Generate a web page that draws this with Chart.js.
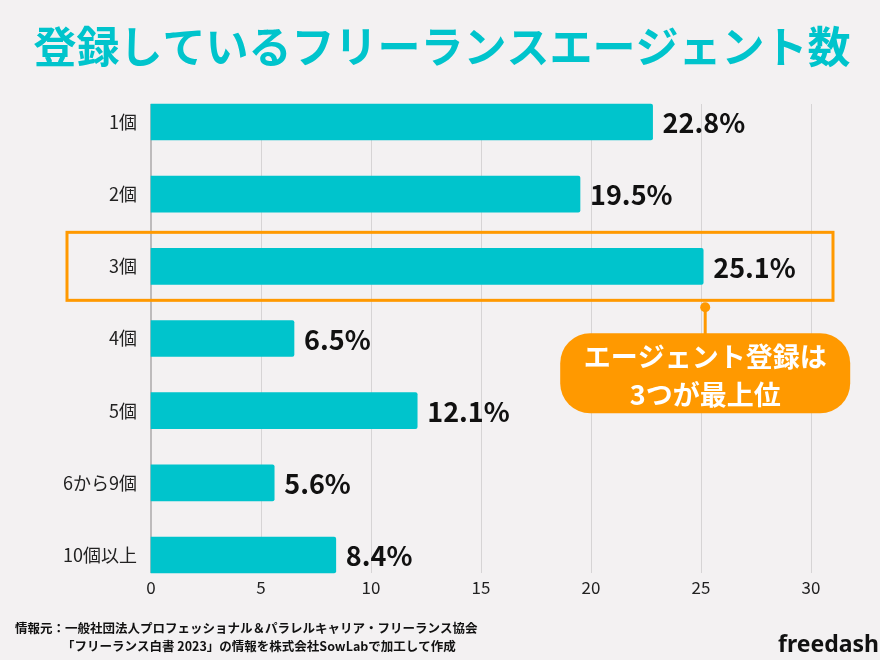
<!DOCTYPE html>
<html>
<head>
<meta charset="utf-8">
<script src="https://cdn.jsdelivr.net/npm/chart.js@4.4.1/dist/chart.umd.min.js"></script>
<style>
  html, body { margin: 0; padding: 0; background: #f3f1f2; }
  #wrap { width: 880px; height: 660px; }
</style>
</head>
<body>
<div id="wrap"><canvas id="graph" width="880" height="660"></canvas></div>
<script>
const categories = ['1個', '2個', '3個', '4個', '5個', '6から9個', '10個以上'];
const shares = [22.8, 19.5, 25.1, 6.5, 12.1, 5.6, 8.4];
const xTicks = [0, 5, 10, 15, 20, 25, 30];

const titleText = '登録しているフリーランスエージェント数';
const calloutLines = ['エージェント登録は', '3つが最上位'];
const sourceLines = [
    '情報元：一般社団法人プロフェッショナル＆パラレルキャリア・フリーランス協会',
    '「フリーランス白書 2023」の情報を株式会社SowLabで加工して作成'
];
const highlightIndex = 2;

const teal = 'rgb(0, 196, 204)';
const orange = 'rgb(255, 153, 0)';
const jp = '"Noto Sans CJK JP", "Noto Sans", sans-serif';
const barThick = 36;

function roundRect(ctx, x, y, w, h, r) {
    ctx.beginPath();
    ctx.moveTo(x + r, y);
    ctx.lineTo(x + w - r, y);
    ctx.arcTo(x + w, y, x + w, y + r, r);
    ctx.lineTo(x + w, y + h - r);
    ctx.arcTo(x + w, y + h, x + w - r, y + h, r);
    ctx.lineTo(x + r, y + h);
    ctx.arcTo(x, y + h, x, y + h - r, r);
    ctx.lineTo(x, y + r);
    ctx.arcTo(x, y, x + r, y, r);
    ctx.closePath();
}

const decorations = {
    id: 'decorations',
    beforeDatasetsDraw(chart) {
        const ctx = chart.ctx;
        const x = chart.scales.x;
        const y = chart.scales.y;
        const top = y.getPixelForValue(0) - barThick / 2;
        const bottom = y.getPixelForValue(categories.length - 1) + barThick / 2;
        ctx.save();
        ctx.strokeStyle = '#d6d4d5';
        ctx.lineWidth = 1;
        xTicks.forEach(function (t) {
            if (t === 0) return;
            const px = Math.round(x.getPixelForValue(t)) + 0.5;
            ctx.beginPath();
            ctx.moveTo(px, top);
            ctx.lineTo(px, bottom);
            ctx.stroke();
        });
        ctx.strokeStyle = '#bdbbbc';
        ctx.lineWidth = 2;
        const x0 = x.getPixelForValue(0);
        ctx.beginPath();
        ctx.moveTo(x0, top);
        ctx.lineTo(x0, bottom);
        ctx.stroke();
        ctx.restore();
    },
    afterDatasetsDraw(chart) {
        const ctx = chart.ctx;
        const x = chart.scales.x;
        const y = chart.scales.y;
        const area = chart.chartArea;
        ctx.save();

        // value labels
        ctx.fillStyle = '#111';
        ctx.font = 'bold 27px ' + jp;
        ctx.textBaseline = 'middle';
        ctx.textAlign = 'left';
        shares.forEach(function (v, i) {
            ctx.fillText(v.toFixed(1) + '%', x.getPixelForValue(v) + 10, y.getPixelForValue(i) + 1);
        });

        // highlight box
        const cy = y.getPixelForValue(highlightIndex);
        const boxTop = cy - 34;
        const boxBottom = cy + 34;
        ctx.strokeStyle = orange;
        ctx.lineWidth = 3;
        ctx.strokeRect(area.left - 84, boxTop, area.right + 22 - (area.left - 84), boxBottom - boxTop);

        // callout
        const px = x.getPixelForValue(shares[highlightIndex]) + 2;
        ctx.fillStyle = orange;
        ctx.beginPath();
        ctx.arc(px, boxBottom + 7, 5, 0, Math.PI * 2);
        ctx.fill();
        ctx.beginPath();
        ctx.moveTo(px, boxBottom + 7);
        ctx.lineTo(px, boxBottom + 36);
        ctx.stroke();
        roundRect(ctx, px - 145, boxBottom + 33, 290, 80, 30);
        ctx.fill();
        ctx.fillStyle = '#fff';
        ctx.font = 'bold 27px ' + jp;
        ctx.textAlign = 'center';
        ctx.fillText(calloutLines[0], px, boxBottom + 56);
        ctx.fillText(calloutLines[1], px, boxBottom + 94);
        ctx.restore();
    },
    afterDraw(chart) {
        const ctx = chart.ctx;
        ctx.save();
        ctx.fillStyle = teal;
        ctx.font = 'bold 43px ' + jp;
        ctx.textAlign = 'center';
        ctx.textBaseline = 'middle';
        ctx.fillText(titleText, 442, 47);

        ctx.fillStyle = '#111';
        ctx.font = 'bold 12.5px ' + jp;
        ctx.textAlign = 'left';
        ctx.fillText(sourceLines[0], 15, 628);
        ctx.fillText(sourceLines[1], 62, 646);

        ctx.font = 'bold 23px "Noto Sans", sans-serif';
        ctx.fillText('freedash', 778, 645);
        ctx.restore();
    }
};

const context = document.getElementById('graph');
new Chart(context, {
    type: 'bar',
    data: {
        labels: categories,
        datasets: [
            {
                data: shares,
                backgroundColor: teal,
                borderRadius: 2,
                borderSkipped: 'start',
                barThickness: barThick,
                clip: false
            }
        ]
    },
    options: {
        indexAxis: 'y',
        responsive: false,
        animation: false,
        events: [],
        layout: { padding: { top: 122, right: 69, left: 0, bottom: 0 } },
        plugins: {
            legend: { display: false },
            tooltip: { enabled: false }
        },
        scales: {
            x: {
                min: 0,
                max: 30,
                afterBuildTicks: function (scale) {
                    scale.ticks = xTicks.map(function (v) { return { value: v }; });
                },
                afterFit: function (scale) { scale.height = 105; },
                grid: { display: false, drawTicks: false },
                border: { display: false },
                ticks: { color: '#222', padding: 22, font: { family: jp, size: 17 } }
            },
            y: {
                offset: false,
                afterFit: function (scale) { scale.width = 151; },
                grid: { display: false, drawTicks: false },
                border: { display: false },
                ticks: { color: '#222', padding: 14, font: { family: jp, size: 18 } }
            }
        }
    },
    plugins: [decorations]
});
</script>
</body>
</html>
